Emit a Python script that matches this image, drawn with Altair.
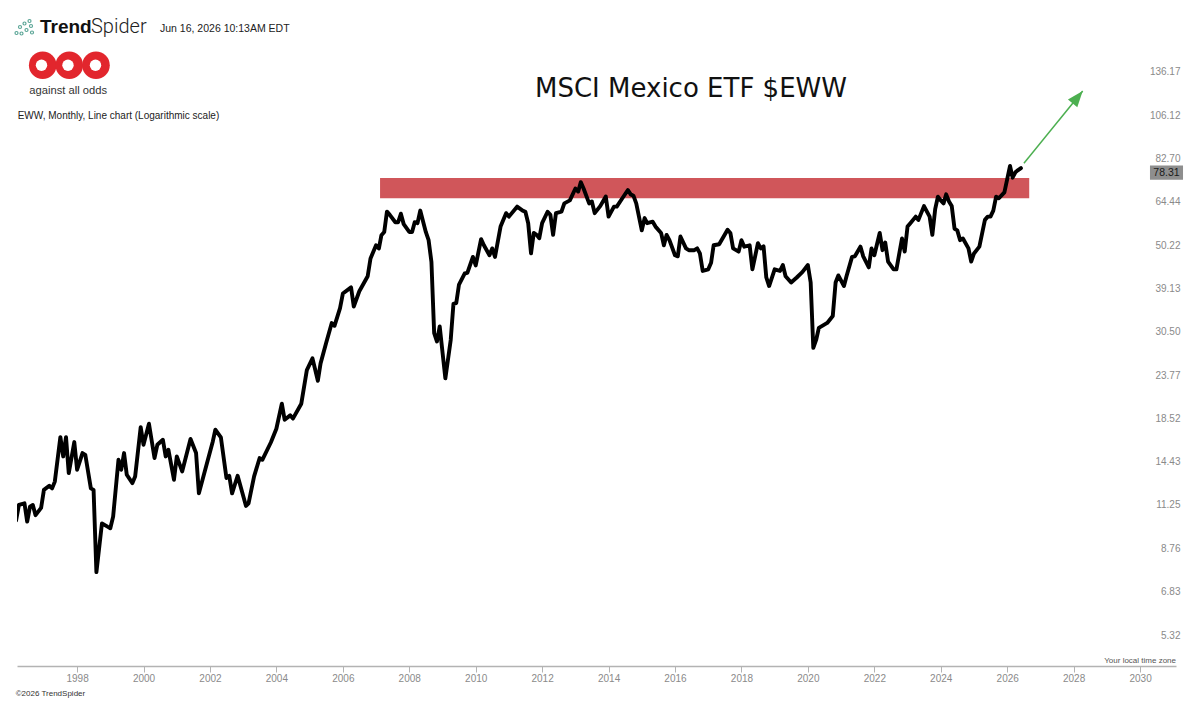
import altair as alt
import pandas as pd

# ---------------- data ----------------
months = [
    "1996-03", "1996-04", "1996-06", "1996-07", "1996-08", "1996-09", "1996-10", "1996-12",
    "1997-01", "1997-03", "1997-04", "1997-05", "1997-07", "1997-08", "1997-09", "1997-10", "1997-12",
    "1998-01", "1998-03", "1998-04", "1998-06", "1998-07", "1998-08", "1998-10", "1998-12",
    "1999-01", "1999-02", "1999-04", "1999-05", "1999-06", "1999-07", "1999-09", "1999-10", "1999-12",
    "2000-01", "2000-03", "2000-05", "2000-06", "2000-08", "2000-09", "2000-10", "2000-12",
    "2001-01", "2001-03", "2001-06", "2001-08", "2001-09",
    "2002-02", "2002-03", "2002-05", "2002-07", "2002-08", "2002-09", "2002-11",
    "2003-02", "2003-03", "2003-05", "2003-07", "2003-08", "2003-11",
    "2004-01", "2004-03", "2004-04", "2004-06", "2004-07", "2004-10", "2004-12",
    "2005-02", "2005-04", "2005-05", "2005-07", "2005-09", "2005-10", "2005-12",
    "2006-01", "2006-04", "2006-05", "2006-07", "2006-10", "2006-11",
    "2007-01", "2007-02", "2007-03", "2007-04", "2007-05", "2007-06", "2007-08", "2007-09", "2007-10", "2007-11",
    "2008-01", "2008-02", "2008-03", "2008-04", "2008-05", "2008-07", "2008-08", "2008-09", "2008-10", "2008-11", "2008-12",
    "2009-02", "2009-04", "2009-05", "2009-06", "2009-07", "2009-09", "2009-10", "2009-12",
    "2010-01", "2010-03", "2010-04", "2010-06", "2010-07", "2010-08", "2010-10", "2010-12",
    "2011-01", "2011-04", "2011-06", "2011-07", "2011-08", "2011-09", "2011-10", "2011-11", "2011-12",
    "2012-01", "2012-03", "2012-04", "2012-05", "2012-06", "2012-08", "2012-09", "2012-11",
    "2013-01", "2013-02", "2013-03", "2013-04", "2013-06", "2013-07", "2013-08", "2013-10", "2013-12",
    "2014-01", "2014-03", "2014-04", "2014-06", "2014-08", "2014-09", "2014-10", "2014-11",
    "2015-01", "2015-02", "2015-03", "2015-05", "2015-06", "2015-08", "2015-09", "2015-10", "2015-11",
    "2016-01", "2016-02", "2016-03", "2016-05", "2016-06", "2016-08", "2016-09", "2016-10", "2016-11",
    "2017-01", "2017-02", "2017-03", "2017-05", "2017-08", "2017-09", "2017-10", "2017-12",
    "2018-01", "2018-02", "2018-04", "2018-05", "2018-07", "2018-08", "2018-09", "2018-10", "2018-11",
    "2019-01", "2019-03", "2019-04", "2019-05", "2019-07", "2019-09", "2019-11",
    "2020-01", "2020-02", "2020-03", "2020-04", "2020-05", "2020-08", "2020-10", "2020-11", "2020-12",
    "2021-02", "2021-03", "2021-05", "2021-06", "2021-08", "2021-09", "2021-11", "2021-12",
    "2022-01", "2022-03", "2022-04", "2022-05", "2022-06", "2022-08", "2022-09", "2022-11", "2022-12",
    "2023-01", "2023-02", "2023-04", "2023-05", "2023-07", "2023-09", "2023-10", "2023-11", "2023-12",
    "2024-01", "2024-02", "2024-03", "2024-04", "2024-05", "2024-06", "2024-07", "2024-08", "2024-09", "2024-11", "2024-12",
    "2025-01", "2025-03", "2025-05", "2025-06", "2025-07", "2025-08", "2025-09", "2025-10", "2025-12",
    "2026-02", "2026-03", "2026-04", "2026-05", "2026-06",
]
prices = [
    10.30, 11.25, 11.36, 10.22, 11.14, 11.25, 10.61, 11.06,
    12.27, 12.57, 12.38, 12.87, 16.63, 14.88, 16.63, 13.52, 16.16,
    13.78, 15.17, 15.02, 12.38, 12.27, 7.64, 10.12, 9.93,
    9.84, 10.52, 14.60, 13.78, 15.17, 13.39, 12.76, 13.26, 17.61,
    15.91, 17.96, 14.74, 15.91, 16.38, 14.88, 15.46, 13.01,
    14.88, 13.65, 16.45, 15.17, 12.03,
    16.22, 17.35, 16.60, 13.14, 13.30, 12.03, 13.31,
    11.19, 11.36, 13.26, 14.74, 14.60, 16.12,
    17.45, 20.16, 18.38, 18.85, 18.50, 20.16, 24.46,
    26.17, 23.00, 25.43, 28.58, 32.07, 31.57, 34.96,
    38.02, 39.40, 35.28, 38.53, 41.99, 46.52,
    50.22, 49.27, 53.20, 54.20, 60.94, 59.80, 57.33, 57.33, 60.20, 56.70,
    54.20, 54.20, 57.33, 57.00, 61.30, 54.20, 51.70, 45.60, 30.27, 28.84, 31.45,
    23.32, 29.10, 35.84, 36.00, 40.04, 42.66, 42.80, 46.95,
    44.70, 52.00, 50.22, 47.40, 49.30, 46.95, 55.90, 60.40,
    59.20, 62.70, 61.30, 60.90, 57.00, 47.90, 53.90, 53.30, 52.30,
    57.00, 60.90, 59.80, 53.30, 60.40, 60.90, 63.90, 65.00,
    69.60, 68.40, 72.20, 69.60, 63.90, 64.60, 60.40, 62.90, 66.50,
    59.20, 62.70, 62.70, 65.80, 69.00, 67.30, 66.80, 63.90,
    54.70, 58.70, 57.00, 57.50, 55.90, 53.90, 50.20, 53.30, 51.70,
    47.40, 47.10, 52.80, 49.30, 48.80, 48.80, 49.30, 47.90, 43.30,
    43.70, 45.40, 50.20, 50.50, 54.90, 53.90, 49.30, 48.40,
    51.70, 49.80, 50.20, 43.70, 50.80, 49.30, 49.90, 41.70, 39.70,
    43.70, 43.30, 44.80, 42.00, 40.50, 41.70, 43.00,
    44.80, 40.50, 27.80, 29.10, 31.20, 32.10, 33.40, 40.50, 42.20,
    39.70, 42.00, 46.95, 47.10, 49.80, 47.10, 44.20, 49.30,
    47.40, 53.90, 48.80, 51.00, 45.70, 43.70, 43.70, 52.20, 48.40,
    55.90, 57.00, 59.20, 58.10, 62.90, 59.20, 53.30, 61.80, 66.40,
    65.00, 63.90, 67.30, 64.60, 62.90, 55.20, 54.70, 51.70, 52.20, 49.30, 45.70,
    47.90, 49.80, 58.10, 59.20, 59.20, 61.30, 66.40, 65.80, 68.10,
    79.30, 74.10, 76.40, 77.40, 78.31,
]

# resistance zone
zone_start = ["2007-02-14"]
zone_end = ["2026-08-31"]
zone_low = [65.8]
zone_high = [73.9]

# breakout arrow (from, to)
arrow_dates = ["2026-07-04", "2028-04-10"]
arrow_values = [80.5, 122.1]

last_price = [78.31]

y_tick_values = [5.32, 6.83, 8.76, 11.25, 14.43, 18.52, 23.77, 30.50,
                 39.13, 50.22, 64.44, 82.70, 106.12, 136.17]
x_tick_years = list(range(1998, 2031, 2))

# ---------------- chart ----------------
W, H = 1159, 658
FONT = "Liberation Sans"

line_df = pd.DataFrame({"date": [m + "-01" for m in months], "price": prices})
zone_df = pd.DataFrame({"start": zone_start, "end": zone_end, "low": zone_low, "high": zone_high})
arrow_df = pd.DataFrame({"d1": [arrow_dates[0]], "d2": [arrow_dates[1]],
                         "v1": [arrow_values[0]], "v2": [arrow_values[1]]})
tip_df = pd.DataFrame({"d": [arrow_dates[1]], "v": [arrow_values[1]]})
last_df = pd.DataFrame({"v": last_price, "label": [f"{p:.2f}" for p in last_price]})
dummy = pd.DataFrame({"k": [0]})

x_scale = alt.Scale(domain=[alt.DateTime(year=1996, month=3, date=11),
                            alt.DateTime(year=2031, month=1, date=31)], nice=False)
y_scale = alt.Scale(type="log", domain=[4.4506, 196.85], nice=False)

x_axis = alt.Axis(
    values=[alt.DateTime(year=y, month=1, date=1) for y in x_tick_years],
    format="%Y", formatType="time", title=None, grid=False,
    domainColor="#b3b3b3", domainWidth=1.5, tickColor="#b3b3b3", tickSize=6,
    tickWidth=1, labelColor="#8a8a8a", labelFont=FONT, labelFontSize=10,
    labelPadding=1, labelFlush=False, labelOverlap=False,
)
y_axis = alt.Axis(
    orient="right", values=y_tick_values, format=".2f", title=None, grid=False,
    domain=False, ticks=False, tickSize=0, labelAlign="right", labelBaseline="middle",
    labelPadding=4, labelColor="#8a8a8a", labelFont=FONT, labelFontSize=10,
    labelOverlap=False,
)


def X(field):
    return alt.X(field, type="temporal", scale=x_scale, axis=x_axis)


def Y(field):
    return alt.Y(field, type="quantitative", scale=y_scale, axis=y_axis)


zone = alt.Chart(zone_df).mark_rect(color="#d0565a", opacity=1).encode(
    x=X("start"), x2="end", y=Y("low"), y2="high")

line = alt.Chart(line_df).mark_line(
    color="black", strokeWidth=3.9, strokeJoin="round", strokeCap="round", clip=True
).encode(x=X("date"), y=Y("price"))

arrow_line = alt.Chart(arrow_df).mark_rule(color="#4caf50", strokeWidth=1.5).encode(
    x=X("d1"), x2="d2", y=Y("v1"), y2="v2")

arrow_head = alt.Chart(tip_df).mark_point(
    shape="M0,0L-0.6,1.6L0.6,1.6Z", size=400, angle=39, filled=True,
    color="#4caf50", opacity=1, strokeWidth=0
).encode(x=X("d"), y=Y("v"))

badge = alt.Chart(last_df).mark_point(
    shape="M-1.18,-0.51L1.18,-0.51L1.18,0.51L-1.18,0.51Z", size=784, filled=True,
    color="#8e8e8e", opacity=1, strokeWidth=0, yOffset=4.5
).encode(x=alt.value(1149.5), y=Y("v"))

badge_text = alt.Chart(last_df).mark_text(
    font=FONT, fontSize=10.5, color="#1a1a1a", align="center", baseline="middle", yOffset=4.5
).encode(x=alt.value(1149.5), y=Y("v"), text="label:N")


def txt(text, x, y, size, color="#222", align="left", baseline="alphabetic",
        weight="normal", font=FONT):
    return alt.Chart(dummy).mark_text(
        text=text, font=font, fontSize=size, color=color, align=align,
        baseline=baseline, fontWeight=weight
    ).encode(x=alt.value(x), y=alt.value(y))


def dot(x, y, size, color, filled=True, sw=0):
    return alt.Chart(dummy).mark_point(
        shape="circle", size=size, filled=filled, color=color, opacity=1, strokeWidth=sw
    ).encode(x=alt.value(x), y=alt.value(y))


texts = [
    txt("MSCI Mexico ETF $EWW", 674, 89, 26, color="#111", align="center", font="DejaVu Sans"),
    txt("Trend", 23, 25.3, 19, color="#111", weight="bold"),
    txt("Spider", 74, 25.3, 20, color="#222", weight=300, font="Roboto"),
    txt("Jun 16, 2026 10:13AM EDT", 143, 23.5, 10.5, color="#222"),
    txt("against all odds", 12.3, 85.5, 11.2, color="#333"),
    txt("EWW, Monthly, Line chart (Logarithmic scale)", 0.7, 111.3, 10, color="#222"),
    txt("Your local time zone", 1159, 652.7, 8, color="#555", align="right", baseline="middle"),
    txt("\u00a92026 TrendSpider", -1.3, 686, 8, color="#333", baseline="middle"),
]

# TrendSpider icon (decoration)
icon = [dot(px - 17, py - 8, 9, "#5aa596", filled=False, sw=1.2)
        for px, py in [(16.5, 33), (20, 27), (24.5, 23.5), (29.5, 21), (31, 26),
                       (26.5, 30), (32, 32.5), (21.5, 33.5)]]

# "aao" logo (decoration)
RED = "#e2262d"
logo = [dot(cx - 17, 65.3 - 8, 760, RED) for cx in (42.7, 69.3, 96.0)]
logo += [dot(cx - 17, 65.3 - 8, 130, "white") for cx in (41.5, 68.0, 95.5)]

chart = alt.layer(
    zone, line, arrow_line, arrow_head, badge, badge_text, *texts, *icon, *logo
).properties(
    width=W, height=H,
    padding={"left": 9, "top": 0, "right": 16, "bottom": 34},
    autosize=alt.AutoSizeParams(type="none"),
    background="white",
).configure_view(stroke=None)

chart.save("out.html", embed_options={"renderer": "svg", "actions": False})
